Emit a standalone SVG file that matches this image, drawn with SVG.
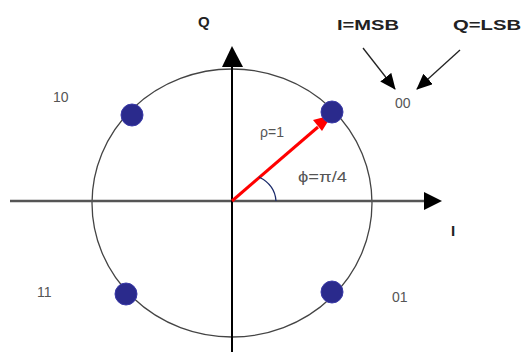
<svg xmlns="http://www.w3.org/2000/svg" width="524" height="354" viewBox="0 0 524 354">
<style>
text{font-family:"Liberation Sans",Arial,sans-serif;font-size:14px;fill:#555}
.b{font-weight:bold;fill:#222;font-size:15px}
.ax{stroke:#000;stroke-width:2;fill:none}
.dot{fill:#2a2a8c;stroke:#3a3aa8;stroke-width:1}
</style>
<defs>
<marker id="ah" markerWidth="16" markerHeight="14" refX="15" refY="7" orient="auto" markerUnits="userSpaceOnUse"><path d="M0,0 L16,7 L0,14 Z" fill="#000"/></marker>
</defs>
<rect width="524" height="354" fill="#fff"/>
<g id="circle"><ellipse cx="232" cy="203" rx="140" ry="134" fill="none" stroke="#444" stroke-width="1.3"/></g>
<g id="connectors">
<line x1="10" y1="201" x2="424" y2="201" stroke="#555" stroke-width="2.5"/>
<path d="M442,201 L424,192 L424,210 Z" fill="#000"/>
<line x1="232" y1="352" x2="232" y2="66" class="ax"/>
<path d="M232,46 L222,67 L243,67 Z" fill="#000"/>
<line x1="232" y1="201" x2="318" y2="127" stroke="#f00" stroke-width="3"/>
<path d="M332,115 L313,120 L322,131 Z" fill="#f00"/>
<path d="M259,177 Q275,185 276,201" fill="none" stroke="#1a2a6a" stroke-width="1.3"/>
<line x1="363" y1="48" x2="395" y2="89" stroke="#222" stroke-width="1.3" marker-end="url(#ah)"/>
<line x1="460" y1="50" x2="417" y2="89" stroke="#222" stroke-width="1.3" marker-end="url(#ah)"/>
</g>
<g id="p00"><circle cx="332" cy="112" r="11" class="dot"/></g>
<g id="p10"><circle cx="132" cy="115" r="11" class="dot"/></g>
<g id="p11"><circle cx="126" cy="294" r="11" class="dot"/></g>
<g id="p01"><circle cx="332" cy="292" r="11" class="dot"/></g>
<g id="labels">
<text x="198" y="27" class="b" font-size="16">Q</text>
<text x="451" y="236" class="b">I</text>
<text x="337" y="30" class="b" textLength="62" lengthAdjust="spacingAndGlyphs">I=MSB</text>
<text x="453" y="30" class="b" textLength="68" lengthAdjust="spacingAndGlyphs">Q=LSB</text>
<text x="395" y="108">00</text>
<text x="53" y="102">10</text>
<text x="37" y="297">11</text>
<text x="392" y="302">01</text>
<text x="260" y="137">ρ=1</text>
<text x="298" y="182" fill="#4a5a6a" textLength="49" lengthAdjust="spacingAndGlyphs">ϕ=π/4</text>
</g>
</svg>
